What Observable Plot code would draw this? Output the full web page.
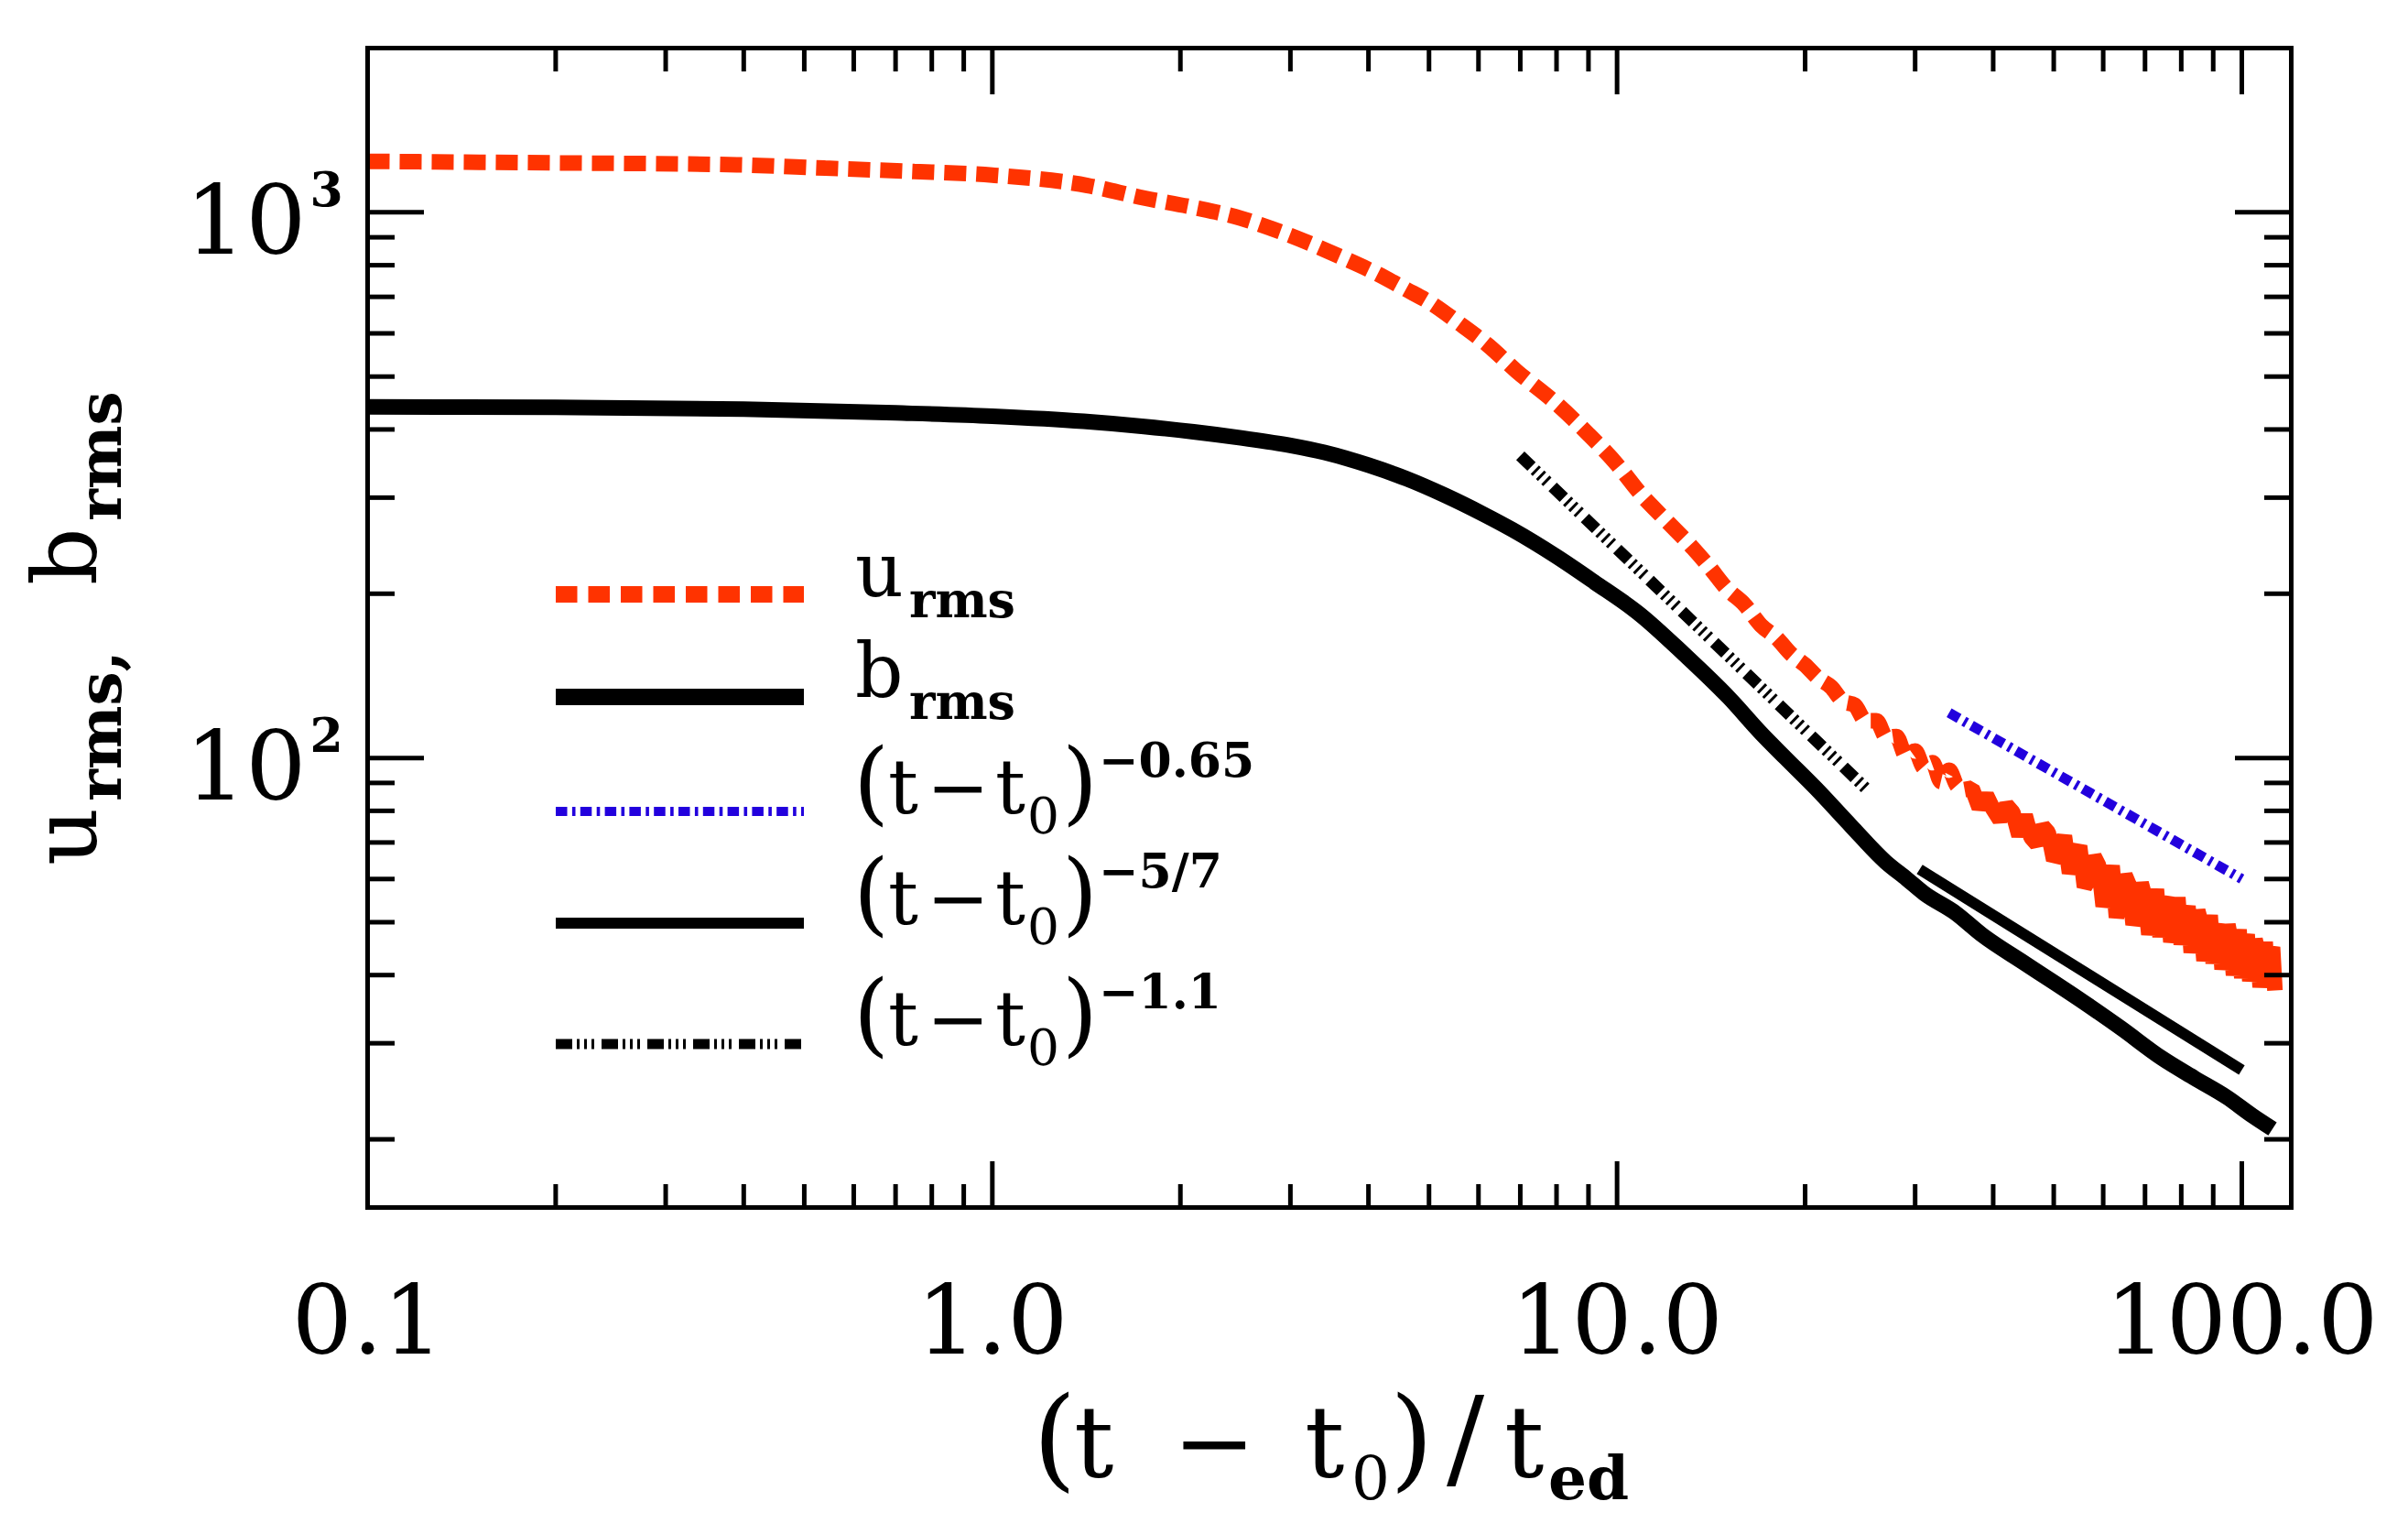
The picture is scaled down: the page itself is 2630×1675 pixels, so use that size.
<!DOCTYPE html>
<html>
<head>
<meta charset="utf-8">
<script src="https://cdn.jsdelivr.net/npm/d3@7"></script>
<script src="https://cdn.jsdelivr.net/npm/@observablehq/plot@0.6"></script>
<style>
  html, body { margin: 0; padding: 0; background: #fff; }
  svg { display: block; }
</style>
</head>
<body>
<div id="chart"></div>
<script>
// Decay of rms velocity and magnetic field versus time since t0 (in eddy turnover times)

// u_rms: kinetic rms value
const tU = [0.1, 0.2, 0.39, 0.54, 0.75, 1.0, 1.42, 1.75, 2.09, 2.5, 2.79, 3.2, 3.6, 4.1, 4.6, 5.0, 5.6, 6.2, 6.9, 8.0, 9.0, 10.0, 10.9, 12.0, 13.2,
  14, 15, 16, 17, 18, 19, 20, 21, 22, 23, 24, 25, 26, 27, 28, 29, 30, 31, 32, 33, 34, 35, 36, 37, 38, 39, 40,
  41, 42, 43, 44, 45, 46, 47, 48, 49, 50, 51, 52, 53, 54, 55, 56, 57, 58, 59, 60, 61, 62, 63, 64, 65, 66, 67, 68, 69, 70,
  71, 72, 73, 74, 75, 76, 77, 78, 79, 80, 81, 82, 83, 84, 85, 86, 87, 88, 89, 90, 91, 92, 93, 94, 95, 96, 97, 98, 99, 100,
  101, 102, 103, 104, 105, 106, 107, 108, 109, 110, 111, 112, 113];
const uRms = [1240, 1232, 1222, 1205, 1188, 1170, 1120, 1062, 1022, 975, 935, 880, 830, 775, 722, 685, 625, 572, 512, 446, 392, 345, 305, 272, 243,
  225, 204, 191, 175, 166, 155, 148, 140, 135, 127, 125, 117, 117, 109, 109.5, 101, 103, 96, 98, 90.5, 95, 89, 87.5, 88, 81, 85.5, 80.5,
  77, 82, 79.5, 72, 78.5, 71.5, 69.5, 75, 73, 65, 67, 72, 61.5, 66, 69, 58, 60, 66, 63.5, 53.5, 57, 63.5, 51, 55, 61, 58.5, 49.5, 52, 59, 55.5,
  47.5, 51, 57.5, 47, 53.5, 55.5, 46, 49, 55.5, 45.5, 50.5, 53.5, 44, 48, 52.5, 50, 42.5, 46, 51.5, 42, 48, 49.5, 41, 44, 49.5, 46.5, 40, 43, 48.5, 39.5,
  45, 47.5, 39, 42, 46.5, 44.5, 38, 41.5, 46, 38.5, 43.5, 45, 37.5];

// b_rms: magnetic rms value
const tB = [0.1, 0.2, 0.4, 0.7, 1.0, 1.4, 1.75, 2.1, 2.5, 3.0, 3.4, 4.0, 4.6, 5.3, 6.1, 6.8, 8.0, 9.2, 10.9, 12.8, 15.1, 17, 18.6, 20.8, 23.7, 26.9, 29.1, 31, 34.8, 38.3, 45, 55, 64, 74.4, 84, 94.6, 104, 112];
const bRms = [440, 439, 436, 429, 423, 414, 405, 396, 386, 374, 363, 344, 325, 303, 280, 262, 234, 210, 183, 155, 129, 111, 100, 88, 75, 64.5, 60, 56.5, 52, 47.5, 42, 36.1, 32, 28.2, 25.9, 23.9, 22.1, 20.9];

// Reference power laws (end points)
const tPow065 = [34, 100];
const pow065 = [121, 60];
const tPow57 = [30.5, 100];
const pow57 = [62.5, 26.8];
const tPow11 = [7, 25];
const pow11 = [358, 88];

// Axis ticks and labels
const xMajor = [0.1, 1, 10, 100];
const xMinor = [0.2, 0.3, 0.4, 0.5, 0.6, 0.7, 0.8, 0.9, 2, 3, 4, 5, 6, 7, 8, 9, 20, 30, 40, 50, 60, 70, 80, 90];
const xLabels = ["0.1", "1.0", "10.0", "100.0"];
const yMajor = [100, 1000];
const yMinor = [20, 30, 40, 50, 60, 70, 80, 90, 200, 300, 400, 500, 600, 700, 800, 900];
const yMantissa = ["10", "10"];
const yExponent = ["2", "3"];

const pairs = (xs, ys) => xs.map((t, i) => ({t, v: ys[i]}));
const font = "DejaVu Serif";
const red = "#ff3300";
const blue = "#2200dd";
const dashU = "24,11";
const dashBlue = "12.5,6,3.5,6";
const dashTriple = "17,5,3,5,3,5,3,8";

const uData = pairs(tU, uRms);
const noisyFrom = 36; // beyond this the thick dashed u_rms trace overlaps itself into a solid band

const tickOpts = {strokeWidth: 5, fill: "none", label: null, tickFormat: () => ""};
const lineOpts = {x: "t", y: "v", strokeLinecap: "butt"};

const chart = Plot.plot({
  width: 2630,
  height: 1675,
  marginLeft: 401,
  marginRight: 128,
  marginTop: 52,
  marginBottom: 357,
  style: {background: "white", fontFamily: font},
  x: {type: "log", domain: [0.1, 120], axis: null},
  y: {type: "log", domain: [15, 2000], axis: null},
  marks: [
    Plot.line(uData.filter(d => d.t <= noisyFrom), {...lineOpts, curve: "monotone-x", stroke: red, strokeWidth: 17, strokeDasharray: dashU, strokeLinejoin: "bevel"}),
    Plot.line(uData.filter(d => d.t >= noisyFrom), {...lineOpts, stroke: red, strokeWidth: 17, strokeLinejoin: "bevel"}),
    Plot.line(pairs(tB, bRms), {...lineOpts, curve: "monotone-x", stroke: "black", strokeWidth: 17}),
    Plot.line(pairs(tPow065, pow065), {...lineOpts, stroke: blue, strokeWidth: 11, strokeDasharray: dashBlue}),
    Plot.line(pairs(tPow57, pow57), {...lineOpts, stroke: "black", strokeWidth: 12}),
    Plot.line(pairs(tPow11, pow11), {...lineOpts, stroke: "black", strokeWidth: 13, strokeDasharray: dashTriple}),

    Plot.axisX(xMajor, {anchor: "bottom", tickSize: -50, ...tickOpts}),
    Plot.axisX(xMinor, {anchor: "bottom", tickSize: -25, ...tickOpts}),
    Plot.axisX(xMajor, {anchor: "top", tickSize: -50, ...tickOpts}),
    Plot.axisX(xMinor, {anchor: "top", tickSize: -25, ...tickOpts}),
    Plot.axisY(yMajor, {anchor: "left", tickSize: -62, ...tickOpts}),
    Plot.axisY(yMinor, {anchor: "left", tickSize: -30, ...tickOpts}),
    Plot.axisY(yMajor, {anchor: "right", tickSize: -62, ...tickOpts}),
    Plot.axisY(yMinor, {anchor: "right", tickSize: -30, ...tickOpts}),
    Plot.frame({stroke: "black", strokeWidth: 5}),

    Plot.text(xMajor, {x: d => d, text: (d, i) => xLabels[i], frameAnchor: "bottom", dy: 159, lineAnchor: "bottom", fontSize: 104, fontFamily: font}),
    Plot.text(yMajor, {y: d => d, text: (d, i) => yMantissa[i], frameAnchor: "left", dx: -67, dy: 45, textAnchor: "end", lineAnchor: "bottom", fontSize: 104, fontFamily: font}),
    Plot.text(yMajor, {y: d => d, text: (d, i) => yExponent[i], frameAnchor: "left", dx: -63, dy: -7, textAnchor: "start", lineAnchor: "bottom", fontSize: 52, fontWeight: "bold", fontFamily: font})
  ]
});

document.getElementById("chart").appendChild(chart);
const svg = d3.select(chart);

// x-axis title: (t − t0)/t_ed
const xt = svg.append("text").attr("y", 1612).attr("text-anchor", "start")
  .attr("font-family", font).attr("font-size", 108).attr("fill", "black");
xt.append("tspan").attr("x", 1128).attr("font-size", 122).text("(");
xt.append("tspan").attr("x", 1173).text("t");
xt.append("tspan").attr("x", 1281).text("\u2212");
xt.append("tspan").attr("x", 1425).text("t");
xt.append("tspan").attr("x", 1476).attr("dy", 25).attr("font-size", 66).text("0");
xt.append("tspan").attr("x", 1518).attr("dy", -25).attr("font-size", 122).text(")");
xt.append("tspan").attr("x", 1580).attr("font-size", 122).text("/");
xt.append("tspan").attr("x", 1643).text("t");
xt.append("tspan").attr("x", 1691).attr("dy", 25).attr("font-size", 66).attr("font-weight", "bold").text("ed");

// y-axis title: u_rms, b_rms (rotated)
const yt = svg.append("text").attr("transform", "translate(105,945) rotate(-90)").attr("text-anchor", "start")
  .attr("font-family", font).attr("font-size", 98).attr("fill", "black");
yt.append("tspan").attr("x", 0).text("u");
yt.append("tspan").attr("x", 70).attr("dy", 27).attr("font-size", 66).attr("font-weight", "bold").text("rms,");
yt.append("tspan").attr("x", 306).attr("dy", -27).text("b");
yt.append("tspan").attr("x", 376).attr("dy", 27).attr("font-size", 66).attr("font-weight", "bold").text("rms");

// Legend
const legend = svg.append("g").attr("font-family", font).attr("fill", "black").attr("text-anchor", "start");
const swatches = [
  {y: 649, stroke: red, width: 18, dash: "23.5,12", x2: 878},
  {y: 761, stroke: "black", width: 18, dash: null, x2: 878},
  {y: 886, stroke: blue, width: 10, dash: "12.5,5.4,3.6,5.3", x2: 878},
  {y: 1008, stroke: "black", width: 12, dash: null, x2: 878},
  {y: 1140, stroke: "black", width: 11, dash: "18,5,3,5,3,5,3,8", x2: 876}
];
for (const s of swatches) {
  legend.append("line").attr("x1", 607).attr("x2", s.x2).attr("y1", s.y).attr("y2", s.y)
    .attr("stroke", s.stroke).attr("stroke-width", s.width)
    .attr("stroke-dasharray", s.dash);
}

function subLabel(main, y, subY) {
  const t = legend.append("text").attr("x", 934).attr("y", y).attr("font-size", 82);
  t.append("tspan").text(main);
  t.append("tspan").attr("x", 993).attr("dy", subY).attr("font-size", 54).attr("font-weight", "bold").text("rms");
}
subLabel("u", 651, 23);
subLabel("b", 761, 24);

function powerLabel(y, exponent) {
  const t = legend.append("text").attr("y", y).attr("font-size", 82);
  t.append("tspan").attr("x", 932).attr("font-size", 100).text("(");
  t.append("tspan").attr("x", 970).text("t");
  t.append("tspan").attr("x", 1012).text("\u2212");
  t.append("tspan").attr("x", 1087).text("t");
  t.append("tspan").attr("x", 1122).attr("dy", 22).attr("font-size", 55).text("0");
  t.append("tspan").attr("x", 1160).attr("dy", -22).attr("font-size", 100).text(")");
  t.append("tspan").attr("x", 1200).attr("dy", -40).attr("font-size", 52).attr("font-weight", "bold").text(exponent);
}
powerLabel(888, "\u22120.65");
powerLabel(1009, "\u22125/7");
powerLabel(1141, "\u22121.1");
</script>
</body>
</html>
